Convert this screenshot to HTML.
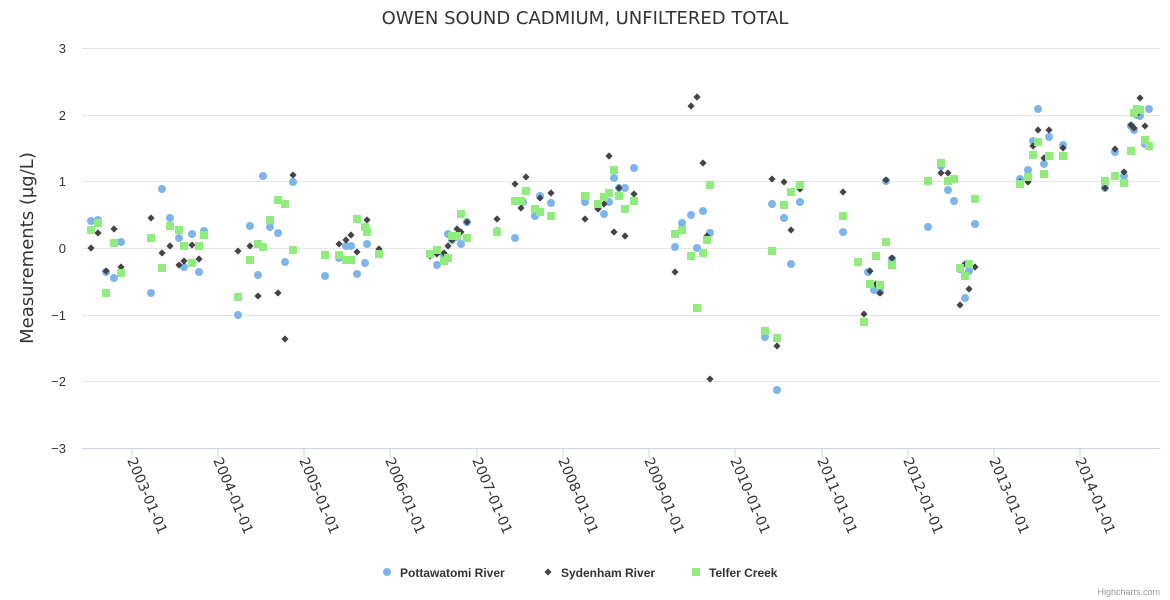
<!DOCTYPE html>
<html><head><meta charset="utf-8"><style>
body{margin:0;background:#fff}
svg{display:block;font-family:"Liberation Sans",Arial,sans-serif}
.dv{font-family:"DejaVu Sans","Liberation Sans",sans-serif}
</style></head><body>
<svg width="1170" height="600" viewBox="0 0 1170 600" xmlns="http://www.w3.org/2000/svg">
<defs>
<path id="d" d="M0,-3.6L3.6,0L0,3.6L-3.6,0Z" fill="#434348"/>
<rect id="s" x="-4" y="-4" width="8" height="8" fill="#90ed7d"/>
<circle id="c" r="4" fill="#7cb5ec"/>
</defs>
<rect width="1170" height="600" fill="#fff"/>
<text class="dv" x="585" y="24" text-anchor="middle" font-size="18" fill="#333">OWEN SOUND CADMIUM, UNFILTERED TOTAL</text>
<g stroke="#e6e6e6" stroke-width="1">
<line x1="82" x2="1160" y1="48.5" y2="48.5"/><line x1="82" x2="1160" y1="115.5" y2="115.5"/>
<line x1="82" x2="1160" y1="181.5" y2="181.5"/><line x1="82" x2="1160" y1="248.5" y2="248.5"/>
<line x1="82" x2="1160" y1="315.5" y2="315.5"/><line x1="82" x2="1160" y1="381.5" y2="381.5"/>
</g>
<line x1="82" x2="1160" y1="448.5" y2="448.5" stroke="#ccd6eb"/>
<g stroke="#ccd6eb">
<line x1="132" x2="132" y1="448" y2="458"/><line x1="218" x2="218" y1="448" y2="458"/>
<line x1="304" x2="304" y1="448" y2="458"/><line x1="390" x2="390" y1="448" y2="458"/>
<line x1="477" x2="477" y1="448" y2="458"/><line x1="563" x2="563" y1="448" y2="458"/>
<line x1="649" x2="649" y1="448" y2="458"/><line x1="735" x2="735" y1="448" y2="458"/>
<line x1="822" x2="822" y1="448" y2="458"/><line x1="908" x2="908" y1="448" y2="458"/>
<line x1="994" x2="994" y1="448" y2="458"/><line x1="1080" x2="1080" y1="448" y2="458"/>
</g>
<g font-size="13" fill="#333" text-anchor="end">
<text x="66" y="53">3</text><text x="66" y="120">2</text><text x="66" y="186">1</text>
<text x="66" y="253">0</text><text x="66" y="320">−1</text><text x="66" y="386">−2</text><text x="66" y="453">−3</text>
</g>
<g class="dv" font-size="14" fill="#333">
<text transform="translate(127,460) rotate(67)">2003-01-01</text>
<text transform="translate(213,460) rotate(67)">2004-01-01</text>
<text transform="translate(299,460) rotate(67)">2005-01-01</text>
<text transform="translate(385,460) rotate(67)">2006-01-01</text>
<text transform="translate(472,460) rotate(67)">2007-01-01</text>
<text transform="translate(558,460) rotate(67)">2008-01-01</text>
<text transform="translate(644,460) rotate(67)">2009-01-01</text>
<text transform="translate(730,460) rotate(67)">2010-01-01</text>
<text transform="translate(817,460) rotate(67)">2011-01-01</text>
<text transform="translate(903,460) rotate(67)">2012-01-01</text>
<text transform="translate(989,460) rotate(67)">2013-01-01</text>
<text transform="translate(1075,460) rotate(67)">2014-01-01</text>
</g>
<text class="dv" transform="translate(33,248) rotate(-90)" text-anchor="middle" font-size="18" fill="#333">Measurements (µg/L)</text>

<g>
<use href="#c" x="91" y="221"/><use href="#c" x="98" y="220"/><use href="#c" x="106" y="272"/><use href="#c" x="114" y="278"/><use href="#c" x="121" y="242"/>
<use href="#c" x="162" y="189"/><use href="#c" x="151" y="293"/><use href="#c" x="170" y="218"/><use href="#c" x="179" y="238"/><use href="#c" x="192" y="234"/><use href="#c" x="204" y="231"/><use href="#c" x="184" y="267"/><use href="#c" x="199" y="272"/>
<use href="#c" x="263" y="176"/><use href="#c" x="293" y="182"/><use href="#c" x="250" y="226"/><use href="#c" x="270" y="227"/><use href="#c" x="278" y="233"/><use href="#c" x="258" y="275"/><use href="#c" x="285" y="262"/><use href="#c" x="238" y="315"/>
<use href="#c" x="325" y="276"/><use href="#c" x="339" y="258"/><use href="#c" x="346" y="246"/><use href="#c" x="351" y="246"/><use href="#c" x="357" y="274"/><use href="#c" x="367" y="244"/><use href="#c" x="365" y="263"/>
<use href="#c" x="437" y="265"/><use href="#c" x="444" y="255"/><use href="#c" x="448" y="234"/><use href="#c" x="452" y="240"/><use href="#c" x="457" y="237"/><use href="#c" x="461" y="244"/><use href="#c" x="467" y="222"/>
<use href="#c" x="497" y="231"/><use href="#c" x="515" y="238"/><use href="#c" x="523" y="202"/><use href="#c" x="535" y="216"/><use href="#c" x="540" y="196"/><use href="#c" x="551" y="203"/>
<use href="#c" x="585" y="202"/><use href="#c" x="598" y="207"/><use href="#c" x="604" y="214"/><use href="#c" x="609" y="202"/><use href="#c" x="614" y="178"/><use href="#c" x="619" y="188"/><use href="#c" x="625" y="188"/><use href="#c" x="634" y="168"/>
<use href="#c" x="675" y="247"/><use href="#c" x="682" y="223"/><use href="#c" x="691" y="215"/><use href="#c" x="697" y="248"/><use href="#c" x="703" y="211"/><use href="#c" x="710" y="233"/>
<use href="#c" x="765" y="337"/><use href="#c" x="772" y="204"/><use href="#c" x="777" y="390"/><use href="#c" x="784" y="218"/><use href="#c" x="791" y="264"/><use href="#c" x="800" y="202"/>
<use href="#c" x="843" y="232"/><use href="#c" x="858" y="262"/><use href="#c" x="868" y="272"/><use href="#c" x="874" y="290"/><use href="#c" x="880" y="292"/><use href="#c" x="886" y="181"/><use href="#c" x="892" y="259"/>
<use href="#c" x="928" y="227"/><use href="#c" x="941" y="166"/><use href="#c" x="948" y="190"/><use href="#c" x="954" y="201"/><use href="#c" x="960" y="269"/><use href="#c" x="965" y="298"/><use href="#c" x="969" y="271"/><use href="#c" x="975" y="224"/>
<use href="#c" x="1020" y="179"/><use href="#c" x="1028" y="170"/><use href="#c" x="1033" y="141"/><use href="#c" x="1038" y="109"/><use href="#c" x="1044" y="164"/><use href="#c" x="1049" y="137"/><use href="#c" x="1063" y="145"/>
<use href="#c" x="1105" y="188"/><use href="#c" x="1115" y="152"/><use href="#c" x="1124" y="176"/><use href="#c" x="1131" y="126"/><use href="#c" x="1134" y="130"/><use href="#c" x="1137" y="115"/><use href="#c" x="1140" y="116"/><use href="#c" x="1145" y="144"/><use href="#c" x="1149" y="109"/>
</g>
<g>
<use href="#d" x="91" y="248"/><use href="#d" x="98" y="233"/><use href="#d" x="106" y="271"/><use href="#d" x="114" y="229"/><use href="#d" x="121" y="267"/>
<use href="#d" x="151" y="218"/><use href="#d" x="162" y="253"/><use href="#d" x="170" y="246"/><use href="#d" x="179" y="265"/><use href="#d" x="184" y="261"/><use href="#d" x="192" y="245"/><use href="#d" x="199" y="259"/>
<use href="#d" x="238" y="251"/><use href="#d" x="250" y="246"/><use href="#d" x="258" y="296"/><use href="#d" x="278" y="293"/><use href="#d" x="285" y="339"/><use href="#d" x="293" y="175"/>
<use href="#d" x="339" y="244"/><use href="#d" x="346" y="240"/><use href="#d" x="351" y="235"/><use href="#d" x="357" y="252"/><use href="#d" x="367" y="220"/><use href="#d" x="379" y="249"/>
<use href="#d" x="430" y="256"/><use href="#d" x="437" y="254"/><use href="#d" x="444" y="253"/><use href="#d" x="448" y="246"/><use href="#d" x="452" y="240"/><use href="#d" x="457" y="229"/><use href="#d" x="461" y="232"/><use href="#d" x="467" y="222"/>
<use href="#d" x="497" y="219"/><use href="#d" x="515" y="184"/><use href="#d" x="521" y="208"/><use href="#d" x="526" y="177"/><use href="#d" x="535" y="209"/><use href="#d" x="540" y="198"/><use href="#d" x="551" y="193"/>
<use href="#d" x="585" y="219"/><use href="#d" x="598" y="209"/><use href="#d" x="604" y="204"/><use href="#d" x="609" y="156"/><use href="#d" x="614" y="232"/><use href="#d" x="619" y="188"/><use href="#d" x="625" y="236"/><use href="#d" x="634" y="194"/>
<use href="#d" x="675" y="272"/><use href="#d" x="682" y="229"/><use href="#d" x="691" y="106"/><use href="#d" x="697" y="97"/><use href="#d" x="703" y="163"/><use href="#d" x="707" y="236"/><use href="#d" x="710" y="379"/>
<use href="#d" x="765" y="331"/><use href="#d" x="772" y="179"/><use href="#d" x="777" y="346"/><use href="#d" x="784" y="182"/><use href="#d" x="791" y="230"/><use href="#d" x="800" y="189"/>
<use href="#d" x="843" y="192"/><use href="#d" x="858" y="263"/><use href="#d" x="864" y="314"/><use href="#d" x="870" y="271"/><use href="#d" x="876" y="284"/><use href="#d" x="880" y="293"/><use href="#d" x="886" y="180"/><use href="#d" x="892" y="258"/>
<use href="#d" x="928" y="182"/><use href="#d" x="941" y="173"/><use href="#d" x="948" y="173"/><use href="#d" x="954" y="180"/><use href="#d" x="960" y="305"/><use href="#d" x="965" y="264"/><use href="#d" x="969" y="289"/><use href="#d" x="975" y="267"/>
<use href="#d" x="1020" y="182"/><use href="#d" x="1028" y="182"/><use href="#d" x="1033" y="146"/><use href="#d" x="1038" y="130"/><use href="#d" x="1044" y="158"/><use href="#d" x="1049" y="130"/><use href="#d" x="1063" y="148"/>
<use href="#d" x="1105" y="188"/><use href="#d" x="1115" y="149"/><use href="#d" x="1124" y="172"/><use href="#d" x="1131" y="125"/><use href="#d" x="1134" y="128"/><use href="#d" x="1137" y="114"/><use href="#d" x="1140" y="98"/><use href="#d" x="1145" y="126"/><use href="#d" x="1149" y="147"/>
</g>
<g>
<use href="#s" x="91" y="230"/><use href="#s" x="98" y="223"/><use href="#s" x="106" y="293"/><use href="#s" x="114" y="243"/><use href="#s" x="121" y="273"/>
<use href="#s" x="151" y="238"/><use href="#s" x="162" y="268"/><use href="#s" x="170" y="226"/><use href="#s" x="179" y="230"/><use href="#s" x="184" y="246"/><use href="#s" x="192" y="263"/><use href="#s" x="199" y="246"/><use href="#s" x="204" y="235"/>
<use href="#s" x="238" y="297"/><use href="#s" x="250" y="260"/><use href="#s" x="258" y="244"/><use href="#s" x="263" y="247"/><use href="#s" x="270" y="220"/><use href="#s" x="278" y="200"/><use href="#s" x="285" y="204"/><use href="#s" x="293" y="250"/>
<use href="#s" x="325" y="255"/><use href="#s" x="339" y="255"/><use href="#s" x="346" y="260"/><use href="#s" x="351" y="260"/><use href="#s" x="357" y="219"/><use href="#s" x="365" y="227"/><use href="#s" x="367" y="232"/><use href="#s" x="379" y="254"/>
<use href="#s" x="430" y="254"/><use href="#s" x="437" y="250"/><use href="#s" x="444" y="261"/><use href="#s" x="448" y="258"/><use href="#s" x="452" y="236"/><use href="#s" x="457" y="236"/><use href="#s" x="461" y="214"/><use href="#s" x="467" y="238"/>
<use href="#s" x="497" y="232"/><use href="#s" x="515" y="201"/><use href="#s" x="521" y="201"/><use href="#s" x="526" y="191"/><use href="#s" x="535" y="209"/><use href="#s" x="540" y="212"/><use href="#s" x="551" y="216"/>
<use href="#s" x="585" y="196"/><use href="#s" x="598" y="204"/><use href="#s" x="604" y="197"/><use href="#s" x="609" y="193"/><use href="#s" x="614" y="170"/><use href="#s" x="619" y="196"/><use href="#s" x="625" y="209"/><use href="#s" x="634" y="201"/>
<use href="#s" x="675" y="234"/><use href="#s" x="682" y="230"/><use href="#s" x="691" y="256"/><use href="#s" x="697" y="308"/><use href="#s" x="703" y="253"/><use href="#s" x="707" y="240"/><use href="#s" x="710" y="185"/>
<use href="#s" x="765" y="331"/><use href="#s" x="772" y="251"/><use href="#s" x="777" y="338"/><use href="#s" x="784" y="205"/><use href="#s" x="791" y="192"/><use href="#s" x="800" y="185"/>
<use href="#s" x="843" y="216"/><use href="#s" x="858" y="262"/><use href="#s" x="864" y="322"/><use href="#s" x="870" y="284"/><use href="#s" x="876" y="256"/><use href="#s" x="880" y="285"/><use href="#s" x="886" y="242"/><use href="#s" x="892" y="265"/>
<use href="#s" x="928" y="181"/><use href="#s" x="941" y="163"/><use href="#s" x="948" y="181"/><use href="#s" x="954" y="179"/><use href="#s" x="960" y="268"/><use href="#s" x="965" y="276"/><use href="#s" x="969" y="264"/><use href="#s" x="975" y="199"/>
<use href="#s" x="1020" y="184"/><use href="#s" x="1028" y="177"/><use href="#s" x="1033" y="155"/><use href="#s" x="1038" y="142"/><use href="#s" x="1044" y="174"/><use href="#s" x="1049" y="156"/><use href="#s" x="1063" y="156"/>
<use href="#s" x="1105" y="181"/><use href="#s" x="1115" y="176"/><use href="#s" x="1124" y="183"/><use href="#s" x="1131" y="151"/><use href="#s" x="1134" y="113"/><use href="#s" x="1137" y="109"/><use href="#s" x="1140" y="110"/><use href="#s" x="1145" y="140"/><use href="#s" x="1149" y="146"/>
</g>

<use href="#c" x="387" y="572"/>
<text x="400" y="577" font-size="12" font-weight="bold" fill="#333">Pottawatomi River</text>
<use href="#d" x="548" y="572"/>
<text x="561" y="577" font-size="12" font-weight="bold" fill="#333">Sydenham River</text>
<use href="#s" x="696" y="572"/>
<text x="709" y="577" font-size="12" font-weight="bold" fill="#333">Telfer Creek</text>
<text x="1160" y="595" text-anchor="end" font-size="9" fill="#999">Highcharts.com</text>
</svg>
</body></html>
